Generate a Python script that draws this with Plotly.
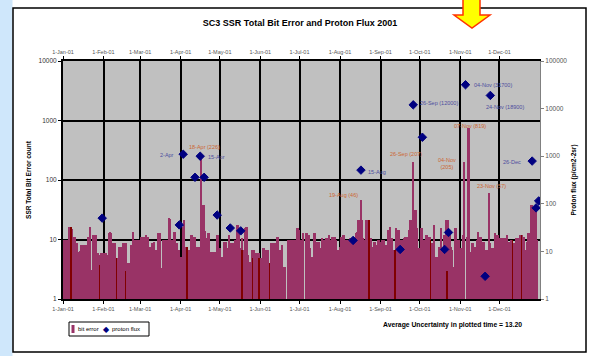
import plotly.graph_objects as go
import pandas as pd

# ---------------- data ----------------
jan = [10, 10, 10, 10, 10, 16, 16, 15, 11, 11, 8.6, 8.6, 6.2, 6.5, 8, 8, 8, 8, 8, 11,
       4.2, 16, 3.1, 12, 12, 12, 4.2, 6, 5.5, 5.9, 5.5]
feb = [5.9, 5.9, 5.9, 5.5, 13, 13.5, 12.7, 8.6, 8.6, 8.6, 4.8, 4.8, 7.6, 7.6, 7.6, 8.6,
       8.6, 8.6, 4.0, 4.0, 4.0, 8.1, 8.1, 13.5, 9.8, 9.8, 9.8, 9.8]
mar = [9.8, 11, 11, 11, 11, 12, 11, 7.6, 7.6, 8.6, 8.8, 9, 6.7, 6.7, 12.7, 12.7, 3.3, 3.3,
       9.8, 9.8, 9.8, 9.8, 22.7, 22, 9.8, 9.8, 13.5, 13.5, 8.6, 6.7, 6.7]
apr = [5.1, 5.1, 16, 21, 7.6, 6.7, 6.7, 6.7, 12, 12, 11, 11, 7.6, 7.6, 7.6, 7.6, 226, 38,
       38, 14, 10.4, 12.7, 12.7, 6.2, 6.2, 6.2, 6.2, 6.2, 12, 12]
may = [7.1, 5.1, 5.1, 9.2, 9.2, 9.2, 7.1, 12, 8.6, 8.6, 8.6, 6.7, 9.8, 17.5, 17.5, 14.4,
       7.1, 10.4, 6.7, 15.4, 16.4, 16.4, 5.5, 4.2, 4.2, 6.7, 6.7, 5.9, 5.9, 5.9, 5.9]
jun = [4.8, 4.8, 7.1, 7.1, 6.7, 6.7, 6.7, 4.0, 8.6, 8.6, 8.6, 8.6, 8.6, 11.1, 11.1, 6.7,
       6.7, 8.1, 3.5, 3.5, 1, 9.8, 9.8, 9.8, 9.8, 9.8, 9.8, 9.8, 15.4, 15.4]
jul = [14.4, 9.8, 7.1, 13, 1, 12.7, 12.7, 11.9, 7.1, 5.1, 5.1, 12.7, 12.7, 9.2, 9.2, 9.2,
       7.1, 10.4, 9.8, 9.8, 10.4, 10.4, 10.4, 11.9, 9.8, 11.1, 11.1, 11.1, 9.8, 6.7, 6.7]
aug = [7.6, 11.1, 11.9, 11.9, 9.8, 9.8, 9.8, 9.2, 10.4, 10.4, 10.4, 9.8, 12.7, 13.6, 21,
       21, 46, 21, 10.4, 9.8, 21, 21, 21, 10.4, 10.4, 7.6, 9.2, 9.2, 8.1, 9.8, 9.8]
sep = [9.2, 9.8, 9.8, 9.8, 8.1, 8.1, 14.4, 16.4, 10.4, 10.4, 6.7, 6.7, 15.4, 14.4, 14.4,
       7.1, 9.8, 9.8, 10.4, 11.1, 11.1, 9.8, 14.4, 21, 21, 203, 31, 31, 15.4, 7.1]
oct_ = [7.1, 15.4, 15.4, 9.8, 9.8, 11.9, 11.9, 11.1, 11.1, 8.6, 8.6, 17.5, 5.1, 5.1, 5.1,
        7.6, 15.4, 6.7, 6.7, 11.9, 21, 21, 21, 11.9, 7.6, 6.7, 3.5, 15.4, 15.4, 9.8, 9.8]
nov = [7.3, 7.3, 11.9, 203, 1, 11.1, 740, 740, 6.2, 8.6, 8.6, 7.6, 7.6, 9.8, 13.5, 11.1,
       11.1, 9.0, 9.0, 6.7, 6.7, 6.7, 60, 8.6, 7.3, 7.3, 1, 12.7, 11.9, 11.9]
dec = [10.4, 10.4, 10.4, 10.4, 10.4, 9.2, 11.9, 9.2, 9.2, 9.8, 9.8, 8.6, 7.6, 10.4, 10.4,
       10.4, 11.9, 11.9, 11.1, 11.1, 6.7, 9.2, 12.7, 12.7, 38, 38, 35, 35, 35, 9.8, 1]

bit_errors = jan + feb + mar + apr + may + jun + jul + aug + sep + oct_ + nov + dec
days = pd.date_range("2001-01-01", periods=len(bit_errors), freq="D")

# thin darker strokes seen inside the bar area
dark_dates = ["2001-01-07", "2001-01-29", "2001-02-11", "2001-02-18", "2001-04-06",
              "2001-05-18", "2001-05-26", "2001-05-31", "2001-06-08", "2001-08-23",
              "2001-09-12", "2001-10-09", "2001-10-22", "2001-12-11", "2001-12-18"]
dark_values = [16, 3.7, 4.8, 2.9, 7.6, 6.7, 4.8, 4.8, 4.0, 21, 6.7, 9.8, 2.9, 9.8, 11.9]

flux_dates = ["2001-01-31", "2001-03-31", "2001-04-03", "2001-04-12", "2001-04-16",
              "2001-04-19", "2001-04-29", "2001-05-09", "2001-05-17", "2001-08-11",
              "2001-08-17", "2001-09-16", "2001-09-26", "2001-10-03", "2001-10-20",
              "2001-10-23", "2001-11-05", "2001-11-20", "2001-11-24", "2001-12-26",
              "2001-12-29", "2001-12-31"]
flux_values = [50, 36, 1100, 360, 1000, 360, 58, 31, 27, 17, 510, 11, 12000, 2500, 11,
               25, 31700, 3, 18900, 790, 82, 115]

month_ticks = ["2001-%02d-01" % m for m in range(1, 13)]
month_labels = ["1-Jan-01", "1-Feb-01", "1-Mar-01", "1-Apr-01", "1-May-01", "1-Jun-01",
                "1-Jul-01", "1-Aug-01", "1-Sep-01", "1-Oct-01", "1-Nov-01", "1-Dec-01"]
left_ticks = [1, 10, 100, 1000, 10000]
right_ticks = [1, 10, 100, 1000, 10000, 100000]

# ---------------- layout helpers (pixel -> paper) ----------------
L, R, T, B = 63, 540, 61, 299
W, H = 589, 356
def px(x):
    return (x - L) / (R - L)
def py(y):
    return (B - y) / (B - T)

FONT = "Liberation Sans, Arial, sans-serif"
BAR = "#993366"
NAVY = "#000080"
ORANGE = "#cc6633"
BLUE_TXT = "#4d4d9e"

fig = go.Figure()
fig.add_trace(go.Bar(x=days, y=bit_errors, name="bit error", marker_color=BAR,
                     marker_line_width=0, showlegend=False))
fig.add_trace(go.Bar(x=dark_dates, y=dark_values, marker_color="#800000",
                     marker_line_width=0, width=0.35 * 86400000, showlegend=False))
fig.add_trace(go.Scatter(x=flux_dates, y=flux_values, name="proton flux", mode="markers",
                         yaxis="y2",
                         marker=dict(symbol="diamond", size=6.5, color=NAVY,
                                     line=dict(color=NAVY, width=1)),
                         showlegend=False))
# an empty trace so the top axis is drawn
fig.add_trace(go.Scatter(x=[], y=[], xaxis="x2", showlegend=False))

xr = ["2001-01-01", "2002-01-01"]
fig.update_layout(
    width=W, height=H,
    margin=dict(l=L, r=W - R, t=T, b=H - B, autoexpand=False),
    paper_bgcolor="white", plot_bgcolor="#c0c0c0",
    barmode="overlay", bargap=0,
    font=dict(family=FONT, size=6, color="#333333"),
    title=dict(text="<b>SC3 SSR Total Bit Error and Proton Flux 2001</b>",
               x=300 / W, xanchor="center", y=1 - 23 / H, yanchor="middle",
               font=dict(size=9, color="black", family=FONT)),
    xaxis=dict(type="date", range=xr, tickvals=month_ticks, ticktext=month_labels,
               showgrid=True, gridcolor="black", gridwidth=2, automargin=False,
               showline=True, linecolor="black", linewidth=2,
               ticks="outside", ticklen=3, tickcolor="black",
               tickfont=dict(size=5.5, color="#555555"), zeroline=False),
    xaxis2=dict(type="date", range=xr, overlaying="x", side="top", anchor="y",
                tickvals=month_ticks, ticktext=month_labels, showgrid=False,
                showline=True, linecolor="black", linewidth=2, automargin=False,
                ticks="outside", ticklen=3, tickcolor="black",
                tickfont=dict(size=5.5, color="#555555")),
    yaxis=dict(type="log", range=[0, 4], tickvals=left_ticks,
               ticktext=[str(v) for v in left_ticks], automargin=False,
               showgrid=True, gridcolor="black", gridwidth=2,
               showline=True, linecolor="black", linewidth=2,
               ticks="outside", ticklen=3, tickcolor="black",
               tickfont=dict(size=6.5, color="#333333"),
               title=dict(text="<b>SSR Total Bit Error count</b>", standoff=6,
                          font=dict(size=6.5, color="black"))),
    yaxis2=dict(type="log", range=[0, 5], overlaying="y", side="right",
                tickvals=right_ticks, ticktext=[str(v) for v in right_ticks],
                showgrid=False, showline=True, linecolor="#808080", linewidth=1,
                ticks="outside", ticklen=3, tickcolor="#808080", automargin=False,
                tickfont=dict(size=6.5, color="#555555"),
                title=dict(text="<b>Proton flux (p/cm2-2sr)</b>", standoff=5,
                           font=dict(size=6.5, color="black"))),
)

shapes = [
    dict(type="rect", xref="paper", yref="paper", x0=px(-2), x1=px(12.5), y0=py(H + 2), y1=py(-2),
         fillcolor="#cfe7fb", line=dict(width=0), layer="below"),
    dict(type="rect", xref="paper", yref="paper", x0=px(13), x1=px(586), y0=py(352), y1=py(8),
         line=dict(color="black", width=1.5)),
    # legend box
    dict(type="rect", xref="paper", yref="paper", x0=px(69), x1=px(149), y0=py(336), y1=py(322),
         line=dict(color="black", width=1), fillcolor="white"),
    dict(type="rect", xref="paper", yref="paper", x0=px(71.5), x1=px(74.5), y0=py(333), y1=py(325),
         line=dict(width=0), fillcolor=BAR),
]
arrow = [(463, -3), (480, -3), (480, 15), (490, 15), (472, 28), (454, 15), (463, 15)]
path = "M " + " L ".join("%f,%f" % (px(a), py(b)) for a, b in arrow) + " Z"
shapes.append(dict(type="path", xref="paper", yref="paper", path=path,
                   fillcolor="#ffff00", line=dict(color="#ff3300", width=1.5)))
fig.update_layout(shapes=shapes)

def note(text, x, y, color, anchor="center", size=5.5, bold=False):
    t = "<b>%s</b>" % text if bold else text
    fig.add_annotation(text=t, xref="paper", yref="paper", x=px(x), y=py(y),
                       xanchor=anchor, yanchor="middle", showarrow=False,
                       font=dict(size=size, color=color, family=FONT))

# proton flux labels
note("2-Apr", 176, 155, BLUE_TXT, "right")
note("15-Apr", 206, 157, BLUE_TXT, "left")
note("15-Aug", 366, 172, BLUE_TXT, "left")
note("26-Sep (12000)", 418, 103, BLUE_TXT, "left")
note("04-Nov (31700)", 472, 85, BLUE_TXT, "left")
note("24-Nov (18900)", 505, 107, BLUE_TXT, "center")
note("26-Dec", 523, 162, BLUE_TXT, "right")
# bit error labels
note("18-Apr (226)", 204, 147, ORANGE)
note("19-Aug (46)", 343, 195, ORANGE)
note("26-Sep (207)", 406, 154, ORANGE)
note("04-Nov<br>(205)", 447, 163, ORANGE)
note("07-Nov (819)", 470, 126, ORANGE)
note("23-Nov (57)", 491, 186, ORANGE)
# legend texts
note("bit error", 76, 329, "black", "left", size=6)
note("\u25c6", 106, 329, NAVY, "center", size=8)
note("proton flux", 110, 329, "black", "left", size=6)
# footer
note("Average Uncertainty in plotted time = 13.20", 452, 325, "black", "center", size=6.8, bold=True)

fig.write_html("out.html", config={"displayModeBar": False},
               post_script="document.body.style.margin='0';")
